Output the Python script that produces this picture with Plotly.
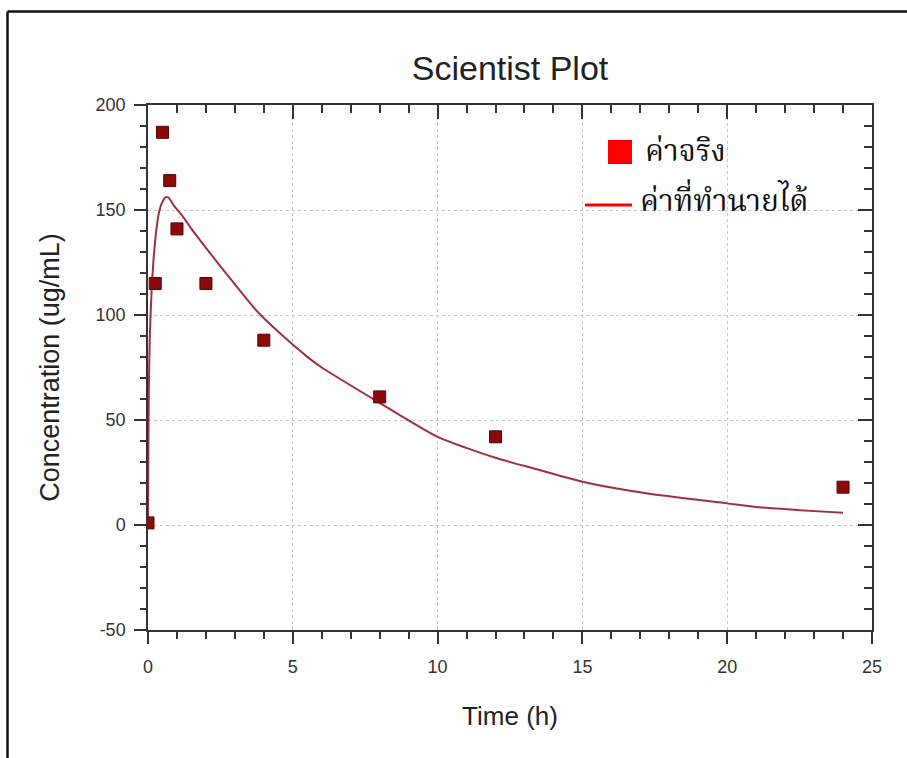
import plotly.graph_objects as go

# Observed data
time_obs = [0, 0.25, 0.5, 0.75, 1, 2, 4, 8, 12, 24]
conc_obs = [1, 115, 187, 164, 141, 115, 88, 61, 42, 18]

# Predicted curve
time_pred = [0, 0.01, 0.03, 0.06, 0.1, 0.15, 0.2, 0.3, 0.4, 0.5, 0.6, 0.7, 0.9, 1.2, 1.5, 2.0, 2.8,
             3.75, 4.5, 5.6, 6.0, 7.9, 10.0, 12.0, 13.3, 15.0, 17.2, 20.0, 21.1, 24.0]
conc_pred = [0, 30, 65, 88, 104, 118, 128, 142, 150, 154, 156, 156, 152, 147, 141, 132, 118,
             102, 92, 79, 75, 59, 42, 32, 27, 20.6, 15.1, 10.3, 8.4, 5.8]

y_ticks = [-50, 0, 50, 100, 150, 200]
y_tick_text = ["-50", "0", "50", "100", "150", "200"]
x_ticks = [0, 5, 10, 15, 20, 25]

legend_names = ["ค่าจริง", "ค่าที่ทำนายได้"]
title_text = "Scientist Plot"
x_title = "Time (h)"
y_title = "Concentration (ug/mL)"

W, H = 907, 758
L, R, T, B = 148, 35, 105, 128
pw, ph = W - L - R, H - T - B


def px(x):
    return (x - L) / pw


def py(y):
    return (H - B - y) / ph


fig = go.Figure()
fig.add_trace(go.Scatter(x=time_pred, y=conc_pred, mode="lines", line_shape="spline",
                         name=legend_names[1],
                         line=dict(color="#9e2f45", width=2, smoothing=0.6), showlegend=False))
fig.add_trace(go.Scatter(x=time_obs, y=conc_obs, mode="markers", name=legend_names[0],
                         marker=dict(symbol="square", size=12, color="#8b0a0a",
                                     line=dict(color="#5a0000", width=1)),
                         showlegend=False))

tick_font = dict(family="Liberation Sans, Arial", size=18, color="#333")
axis_common = dict(showline=True, linecolor="#333", linewidth=1.5,
                   tickwidth=1.5, tickcolor="#333", zeroline=False)

fig.update_xaxes(range=[0, 25], tickvals=x_ticks, ticks="outside", ticklen=12,
                 tickfont=tick_font, ticklabelstandoff=8,
                 showgrid=True, gridcolor="#c8c8c8", griddash="dot", gridwidth=1,
                 minor=dict(dtick=1, ticks="outside", ticklen=7, tickcolor="#333", showgrid=False),
                 title=dict(text=x_title, font=dict(family="Liberation Sans, Arial", size=26, color="#222"), standoff=30),
                 **axis_common)
fig.update_yaxes(range=[-50, 200], tickvals=y_ticks, ticktext=y_tick_text, ticks="outside", ticklen=12,
                 tickfont=tick_font, ticklabelstandoff=5,
                 showgrid=True, gridcolor="#c8c8c8", griddash="dot", gridwidth=1,
                 minor=dict(dtick=10, ticks="outside", ticklen=6, tickcolor="#333", showgrid=False),
                 title=dict(text=y_title, font=dict(family="Liberation Sans, Arial", size=27, color="#222"), standoff=28),
                 **axis_common)

# mirrored top/right axes with inside ticks
fig.update_layout(
    xaxis2=dict(overlaying="x", side="top", range=[0, 25], tickvals=x_ticks, ticks="inside", ticklen=14,
                showticklabels=False, showgrid=False,
                minor=dict(dtick=1, ticks="inside", ticklen=8, tickcolor="#333"),
                **axis_common),
    yaxis2=dict(overlaying="y", side="right", range=[-50, 200], tickvals=y_ticks, ticks="inside", ticklen=14,
                showticklabels=False, showgrid=False,
                minor=dict(dtick=10, ticks="inside", ticklen=8, tickcolor="#333"),
                **axis_common),
)
fig.add_trace(go.Scatter(x=[None], y=[None], xaxis="x2", yaxis="y2", showlegend=False))

# outer frame (left and top lines)
fig.add_shape(type="line", xref="paper", yref="paper", x0=px(7.5), x1=px(7.5), y0=py(11.5), y1=py(H + 5),
              line=dict(color="#111", width=2.5))
fig.add_shape(type="line", xref="paper", yref="paper", x0=px(7.5), x1=px(W + 5), y0=py(11.5), y1=py(11.5),
              line=dict(color="#111", width=2.5))

# manual legend
thai_font = dict(family="Noto Serif Thai, Noto Sans Thai, Tlwg Typo, serif", size=30, color="#111")
fig.add_shape(type="rect", xref="paper", yref="paper", x0=px(608), x1=px(632), y0=py(164), y1=py(140),
              fillcolor="#ff0000", line=dict(width=0))
fig.add_shape(type="line", xref="paper", yref="paper", x0=px(585), x1=px(632), y0=py(205), y1=py(205),
              line=dict(color="#ff0000", width=3))
fig.add_annotation(xref="paper", yref="paper", x=px(643), y=py(153), text=legend_names[0],
                   showarrow=False, xanchor="left", yanchor="middle", font=thai_font)
fig.add_annotation(xref="paper", yref="paper", x=px(638), y=py(203), text=legend_names[1],
                   showarrow=False, xanchor="left", yanchor="middle", font=thai_font)

fig.update_layout(
    width=W, height=H,
    margin=dict(l=L, r=R, t=T, b=B),
    paper_bgcolor="white", plot_bgcolor="white",
    showlegend=False,
    title=dict(text=title_text, x=0.5, xref="paper", xanchor="center",
               y=(H - 68) / H, yanchor="middle",
               font=dict(family="Liberation Sans, Arial", size=34, color="#222")),
)

fig.write_html("out.html", config={"displayModeBar": False},
               post_script="document.body.style.margin='0px';")
